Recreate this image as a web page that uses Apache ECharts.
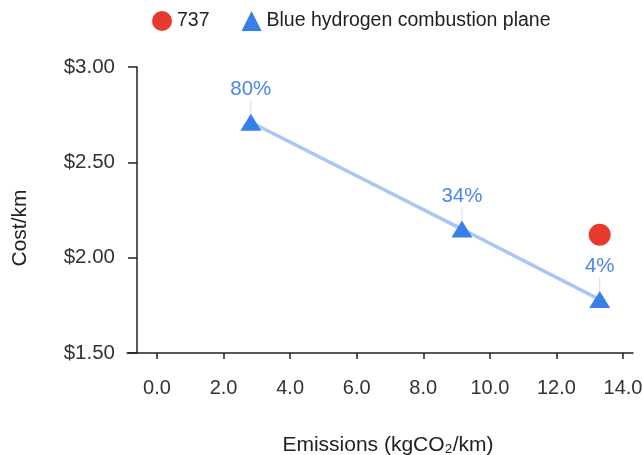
<!DOCTYPE html>
<html>
<head>
<meta charset="utf-8">
<script src="https://cdn.jsdelivr.net/npm/echarts@6/dist/echarts.min.js"></script>
<style>
html,body{margin:0;padding:0;background:#fff;}
#chart{width:643px;height:455px;}
</style>
</head>
<body>
<div id="chart"></div>
<script>
// Data
const hydrogenX = [2.82, 9.16, 13.3];
const hydrogenY = [2.71, 2.15, 1.78];
const hydrogenLabels = ['80%', '34%', '4%'];
const plane737X = [13.3];
const plane737Y = [2.12];
const xTicks = [0, 2, 4, 6, 8, 10, 12, 14];
const yTicks = [1.5, 2.0, 2.5, 3.0];
const seriesNames = ['737', 'Blue hydrogen combustion plane'];

const FONT = '"Liberation Sans", Arial, sans-serif';
const chart = echarts.init(document.getElementById('chart'), null, {renderer: 'canvas'});

const hydrogenData = hydrogenX.map((x, i) => ({value: [x, hydrogenY[i]], label: {formatter: hydrogenLabels[i]}}));
const planeData = plane737X.map((x, i) => [x, plane737Y[i]]);

chart.setOption({
  animation: false,
  textStyle: {fontFamily: FONT},
  legend: {
    top: 6,
    left: 147,
    itemWidth: 20,
    itemHeight: 20,
    itemGap: 32,
    textStyle: {fontSize: 19.5, color: '#222', fontFamily: FONT},
    data: [
      {name: seriesNames[0], icon: 'circle'},
      {name: seriesNames[1], icon: 'triangle'}
    ]
  },
  grid: {left: 127, right: 10, top: 67, bottom: 102, containLabel: false, outerBoundsMode: 'none'},
  xAxis: {
    type: 'value',
    min: -0.9,
    max: 14.3,
    name: 'Emissions (kgCO\u2082/km)',
    nameLocation: 'middle',
    nameGap: 82,
    nameTextStyle: {fontSize: 21, color: '#222', fontFamily: FONT, padding: [0, 0, 0, 16]},
    splitLine: {show: false},
    axisLine: {show: true, onZero: false, lineStyle: {color: '#222', width: 1.5}},
    axisTick: {show: true, length: 6, customValues: xTicks, lineStyle: {color: '#222', width: 1.5}},
    axisLabel: {customValues: xTicks, margin: 25, fontSize: 20, color: '#333', fontFamily: FONT,
      formatter: v => v.toFixed(1)}
  },
  yAxis: {
    type: 'value',
    min: yTicks[0],
    max: yTicks[yTicks.length - 1],
    interval: 0.5,
    offset: -10,
    name: 'Cost/km',
    nameLocation: 'middle',
    nameRotate: 90,
    nameGap: 106,
    nameTextStyle: {fontSize: 21, color: '#222', fontFamily: FONT, padding: [0, 36, 0, 0]},
    splitLine: {show: false},
    axisLine: {show: true, onZero: false, lineStyle: {color: '#222', width: 1.5}},
    axisTick: {show: true, length: 9, lineStyle: {color: '#222', width: 1.5}},
    axisLabel: {margin: 22, fontSize: 20.5, color: '#333', fontFamily: FONT,
      formatter: v => '$' + v.toFixed(2)}
  },
  series: [
    {
      name: seriesNames[0],
      type: 'scatter',
      symbol: 'circle',
      symbolSize: 22,
      itemStyle: {color: '#e8392f', opacity: 1},
      data: planeData,
      z: 3
    },
    {
      name: seriesNames[1],
      type: 'line',
      symbol: 'triangle',
      symbolSize: [21, 17],
      showAllSymbol: true,
      itemStyle: {color: '#3780ea'},
      lineStyle: {color: '#a9c6f5', width: 3.5},
      label: {show: true, position: 'top', distance: 4, fontSize: 20.5, color: '#4a86e8', fontFamily: FONT},
      labelLayout: {dy: -10},
      labelLine: {show: true, lineStyle: {color: '#dcdcdc', width: 1}},
      data: hydrogenData,
      z: 2
    }
  ]
});
</script>
</body>
</html>
